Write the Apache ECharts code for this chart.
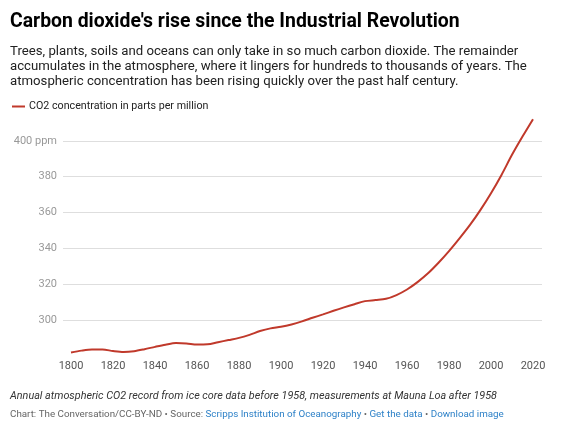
<!DOCTYPE html>
<html><head><meta charset="utf-8">
<script src="https://cdn.jsdelivr.net/npm/echarts@6/dist/echarts.min.js"></script>
<style>html,body{margin:0;padding:0;background:#fff}#c{width:575px;height:433px}</style>
</head><body><div id="c"></div>
<script>
const years = [1800,1805,1810,1815,1820,1825,1830,1835,1840,1845,1850,1855,1860,1865,1870,1875,1880,1885,1890,1895,1900,1905,1910,1915,1920,1925,1930,1935,1940,1945,1950,1955,1960,1965,1970,1975,1980,1985,1990,1995,2000,2005,2010,2015,2020];
const co2 = [282.0,283.0,283.6,283.6,282.8,282.3,282.7,283.8,285.1,286.3,287.2,287.0,286.4,286.5,287.7,288.9,290.1,291.8,293.9,295.4,296.3,297.6,299.3,301.3,303.2,305.2,307.1,308.9,310.6,311.2,311.9,314.0,317.1,321.2,326.1,332.0,338.5,345.6,353.1,361.5,370.8,381.0,392.2,402.4,412.1];
const xTicks = [1800,1820,1840,1860,1880,1900,1920,1940,1960,1980,2000,2020];
const yTicks = [300,320,340,360,380,400];
const seriesName = 'CO2 concentration in parts per million';

const chart = echarts.init(document.getElementById('c'), null, {renderer:'canvas'});
const F = 'Roboto, "Noto Sans", sans-serif';
const yMin = 280, yMax = 420;
chart.setOption({
  animation:false,
  textStyle:{fontFamily:F},
  title:[
    {text:"Carbon dioxide's rise since the Industrial Revolution", left:10, top:13, padding:0,
     textStyle:{fontFamily:F, fontSize:19.4, fontWeight:'bold', color:'#000'}},
    {text:'Trees, plants, soils and oceans can only take in so much carbon dioxide. The remainder\naccumulates in the atmosphere, where it lingers for hundreds to thousands of years. The\natmospheric concentration has been rising quickly over the past half century.',
     left:10, top:44, padding:0, textStyle:{fontFamily:F, fontSize:13.2, fontWeight:'normal', color:'#222', lineHeight:15}},
    {text:'Annual atmospheric CO2 record from ice core data before 1958, measurements at Mauna Loa after 1958',
     left:10, top:391, padding:0, textStyle:{fontFamily:F, fontSize:10.8, fontStyle:'italic', fontWeight:'normal', color:'#333'}},
    {text:'{g|Chart: The Conversation/CC-BY-ND • Source: }{b|Scripps Institution of Oceanography}{g| • }{b|Get the data}{g| • }{b|Download image}',
     left:10, top:410, padding:0, textStyle:{fontFamily:F, fontSize:9.8, fontWeight:'normal',
       rich:{g:{color:'#666', fontSize:9.8, fontFamily:F}, b:{color:'#2f82c8', fontSize:9.8, fontFamily:F}}}}
  ],
  legend:{left:12, top:101, padding:0, icon:'rect', itemWidth:13, itemHeight:2, itemGap:10,
    textStyle:{fontFamily:F, fontSize:10.7, color:'#222', padding:[0,0,0,-1]}, data:[seriesName]},
  grid:[
    {left:63, right:33, top:105, height:251},
    {left:71, right:42, top:105, height:251}
  ],
  xAxis:[
    {gridIndex:0, type:'value', min:0, max:1, show:false},
    {gridIndex:1, type:'value', min:1800, max:2020, interval:20,
     axisLine:{show:false}, axisTick:{show:false}, splitLine:{show:false},
     axisLabel:{color:'#555', fontSize:11, margin:5, fontFamily:F,
       formatter:v=>xTicks.includes(v)?String(v):''}}
  ],
  yAxis:[
    {gridIndex:0, type:'value', min:yMin, max:yMax, interval:20,
     axisLine:{show:false}, axisTick:{show:false},
     splitLine:{show:true, showMinLine:false, showMaxLine:false, lineStyle:{color:'#dedede', width:1}},
     axisLabel:{color:'#999', fontSize:11, margin:6, fontFamily:F,
       formatter:v=>yTicks.includes(v)?(v===400?'400 ppm':String(v)):''}},
    {gridIndex:1, type:'value', min:yMin, max:yMax, interval:20, show:false, splitLine:{show:false}}
  ],
  series:[
    {name:seriesName, type:'line', xAxisIndex:1, yAxisIndex:1, smooth:0.3, showSymbol:false,
     lineStyle:{color:'#c0392b', width:2}, itemStyle:{color:'#c0392b'},
     data:years.map((y,i)=>[y,co2[i]])}
  ]
});
</script></body></html>
